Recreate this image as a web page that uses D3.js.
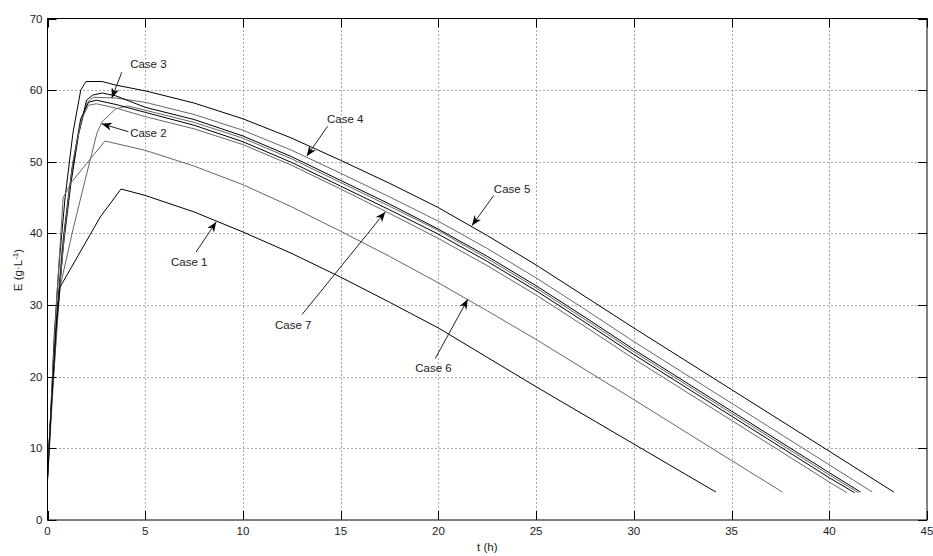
<!DOCTYPE html>
<html lang="en">
<head>
<meta charset="UTF-8">
<title>E versus t, cases 1-7</title>
<script src="https://d3js.org/d3.v7.min.js"></script>
<style>
    body { margin: 0; background: #fff; }
    svg { display: block; font-family: 'Liberation Sans', Arial, sans-serif; }
    .tick-label { font-size: 11.5px; fill: #222; }
    .case-label { font-size: 11.5px; fill: #222; }
</style>
</head>
<body>
<svg id="chart" width="933" height="556"></svg>
<script>
    // axis ticks
    const xTicks = [0, 5, 10, 15, 20, 25, 30, 35, 40, 45];
    const yTicks = [0, 10, 20, 30, 40, 50, 60, 70];

    // curves, [t (h), E (g/L)]
    const case5 = [[0,5.8],[0.15,14],[0.35,26],[0.6,36],[0.9,45],[1.3,54],[1.7,60],[1.97,61.2],[2.8,61.2],[3.5,60.7],[5,59.9],[7.5,58.2],[10,56.0],[12.5,53.3],[15,50.2],[17.5,47.0],[20,43.6],[22.5,39.7],[25,35.6],[27.5,31.2],[30,26.8],[35,18.2],[40,9.6],[43.3,3.9]];
    const case4 = [[0,6.5],[0.2,16],[0.45,28],[0.75,38],[1.1,46],[1.6,54],[2.0,58.2],[2.35,59.0],[3.5,58.9],[5,58.3],[7.5,56.6],[10,54.4],[12.5,51.6],[15,48.4],[17.5,45.1],[20,41.7],[22.5,37.9],[25,33.8],[27.5,29.4],[30,24.9],[35,16.3],[40,7.7],[42.2,3.9]];
    const case3 = [[0,7],[0.2,16],[0.45,27],[0.8,38],[1.2,47],[1.6,54],[2.0,58.6],[2.3,59.3],[2.8,59.6],[3.5,59.2],[5,57.6],[7.5,55.9],[10,53.6],[12.5,50.7],[15,47.4],[17.5,44.1],[20,40.6],[22.5,36.8],[25,32.7],[27.5,28.3],[30,23.8],[35,15.2],[40,6.6],[41.6,3.9]];
    const case2 = [[0,6],[0.25,18],[0.64,32.5],[1.3,40.5],[1.92,47.4],[2.53,54],[2.79,55.6],[3.5,57.4],[4.1,57.8],[5,57.2],[7.5,55.5],[10,53.3],[12.5,50.4],[15,47.1],[17.5,43.8],[20,40.4],[22.5,36.5],[25,32.4],[27.5,28.0],[30,23.5],[35,14.9],[40,6.3],[41.5,3.8]];
    const caseX = [[0,6.2],[0.2,16],[0.5,29],[0.85,40],[1.25,49],[1.7,56],[2.1,58.3],[2.5,58.6],[3.5,58.0],[5,56.9],[7.5,55.1],[10,52.8],[12.5,49.9],[15,46.6],[17.5,43.3],[20,39.9],[22.5,36.1],[25,32.0],[27.5,27.6],[30,23.1],[35,14.5],[40,5.9],[41.3,3.8]];
    const case7 = [[0,5.5],[0.25,17],[0.55,30],[0.9,41],[1.3,50],[1.75,56],[2.1,57.9],[2.5,58.1],[3.5,57.5],[5,56.3],[7.5,54.6],[10,52.4],[12.5,49.5],[15,46.2],[17.5,42.8],[20,39.3],[22.5,35.5],[25,31.4],[27.5,27.0],[30,22.5],[35,13.9],[40,5.3],[40.9,3.8]];
    const case6 = [[0,6],[0.2,17],[0.45,30],[0.8,45],[1.24,47.2],[2.94,52.9],[5,51.6],[7.5,49.4],[10,46.8],[12.5,43.7],[15,40.3],[17.5,36.8],[20,33.1],[22.5,29.2],[25,25.2],[27.5,21.0],[30,16.8],[35,8.3],[37.6,3.9]];
    const case1 = [[0,5.5],[0.2,16],[0.45,27],[0.64,32.5],[2.7,42.3],[3.76,46.2],[5,45.3],[7.5,43.0],[10,40.2],[12.5,37.2],[15,33.9],[17.5,30.4],[20,26.8],[22.5,22.7],[25,18.6],[27.5,14.6],[30,10.6],[34.2,3.9]];

    const curves = [case5, case4, case3, case2, caseX, case7, case6, case1];
    const curveColors = ["#000", "#666", "#000", "#666", "#000", "#666", "#666", "#000"];

    // annotations: label, text centre, arrow start, arrow tip (data units)
    const labelNames = ["Case 1", "Case 2", "Case 3", "Case 4", "Case 5", "Case 6", "Case 7"];
    const labelAt   = [[7.25,36.0],[5.16,54.0],[5.16,63.6],[15.23,56.0],[23.77,46.2],[19.75,21.2],[12.57,27.2]];
    const arrowFrom = [[7.6,37.4],[4.14,54.2],[3.8,62.5],[14.33,54.95],[22.83,45.3],[19.84,22.55],[13.03,28.7]];
    const arrowTo   = [[8.63,41.6],[2.78,55.3],[3.29,58.9],[13.27,50.8],[21.72,41.1],[21.5,30.8],[17.28,43.0]];

    const svg = d3.select("#chart");
    const plotLeft = 47.5, plotRight = 927, plotTop = 18.5, plotBottom = 520;

    const x = d3.scaleLinear().domain([0, 45]).range([plotLeft, plotRight]);
    const y = d3.scaleLinear().domain([0, 70]).range([plotBottom, plotTop]);

    svg.append("rect").attr("x", plotLeft).attr("y", plotTop)
        .attr("width", plotRight - plotLeft).attr("height", plotBottom - plotTop).attr("fill", "#fff");

    // dotted grid
    const grid = svg.append("g").attr("stroke", "#555").attr("stroke-width", 1).attr("stroke-dasharray", "1,3");
    grid.selectAll(".gx").data(xTicks.slice(1, -1)).enter().append("line")
        .attr("x1", d => Math.round(x(d)) + 0.5).attr("x2", d => Math.round(x(d)) + 0.5)
        .attr("y1", plotTop).attr("y2", plotBottom);
    grid.selectAll(".gy").data(yTicks.slice(1, -1)).enter().append("line")
        .attr("y1", d => Math.round(y(d)) + 0.5).attr("y2", d => Math.round(y(d)) + 0.5)
        .attr("x1", plotLeft).attr("x2", plotRight);

    // curves (straight segments between points, like the original plot)
    const line = d3.line().x(d => x(d[0])).y(d => y(d[1]));
    svg.append("g").selectAll("path").data(curves).enter().append("path")
        .attr("d", line)
        .attr("fill", "none")
        .attr("stroke", (d, i) => curveColors[i])
        .attr("stroke-width", 1)
        .attr("stroke-linejoin", "round");

    // frame with inward ticks (box on)
    const tickLen = 9;
    svg.append("rect").attr("x", plotLeft).attr("y", plotTop)
        .attr("width", plotRight - plotLeft).attr("height", plotBottom - plotTop)
        .attr("fill", "none").attr("stroke", "#000");

    const ticks = svg.append("g").attr("stroke", "#000");
    xTicks.forEach(d => {
        const px = Math.round(x(d)) + 0.5;
        ticks.append("line").attr("x1", px).attr("x2", px).attr("y1", plotBottom).attr("y2", plotBottom - tickLen);
        ticks.append("line").attr("x1", px).attr("x2", px).attr("y1", plotTop).attr("y2", plotTop + tickLen);
    });
    yTicks.forEach(d => {
        const py = Math.round(y(d)) + 0.5;
        ticks.append("line").attr("y1", py).attr("y2", py).attr("x1", plotLeft).attr("x2", plotLeft + tickLen);
        ticks.append("line").attr("y1", py).attr("y2", py).attr("x1", plotRight).attr("x2", plotRight - tickLen);
    });

    svg.append("g").selectAll("text").data(xTicks).enter().append("text")
        .attr("class", "tick-label")
        .attr("x", d => x(d)).attr("y", plotBottom + 15)
        .attr("text-anchor", "middle")
        .text(d => d);
    svg.append("g").selectAll("text").data(yTicks).enter().append("text")
        .attr("class", "tick-label")
        .attr("x", plotLeft - 5).attr("y", d => y(d) + 4)
        .attr("text-anchor", "end")
        .text(d => d);

    // axis titles
    svg.append("text").attr("class", "tick-label")
        .attr("x", (plotLeft + plotRight) / 2).attr("y", 551)
        .attr("text-anchor", "middle").text("t (h)");
    const yTitle = svg.append("text").attr("class", "tick-label")
        .attr("transform", "translate(22,270) rotate(-90)")
        .attr("text-anchor", "middle");
    yTitle.append("tspan").text("E (g\u00b7L");
    yTitle.append("tspan").attr("font-size", "8px").attr("dy", -4).text("-1");
    yTitle.append("tspan").attr("dy", 4).text(")");

    // annotation arrows
    svg.append("defs").append("marker")
        .attr("id", "head").attr("markerUnits", "userSpaceOnUse")
        .attr("markerWidth", 11).attr("markerHeight", 8)
        .attr("refX", 10).attr("refY", 4).attr("orient", "auto")
        .append("path").attr("d", "M0,0 L10,4 L0,8 L3,4 Z").attr("fill", "#000");

    const notes = svg.append("g");
    labelNames.forEach((name, i) => {
        notes.append("line")
            .attr("x1", x(arrowFrom[i][0])).attr("y1", y(arrowFrom[i][1]))
            .attr("x2", x(arrowTo[i][0])).attr("y2", y(arrowTo[i][1]))
            .attr("stroke", "#222").attr("stroke-width", 1)
            .attr("marker-end", "url(#head)");
        notes.append("text").attr("class", "case-label")
            .attr("x", x(labelAt[i][0])).attr("y", y(labelAt[i][1]) + 4)
            .attr("text-anchor", "middle")
            .text(name);
    });
</script>
</body>
</html>
